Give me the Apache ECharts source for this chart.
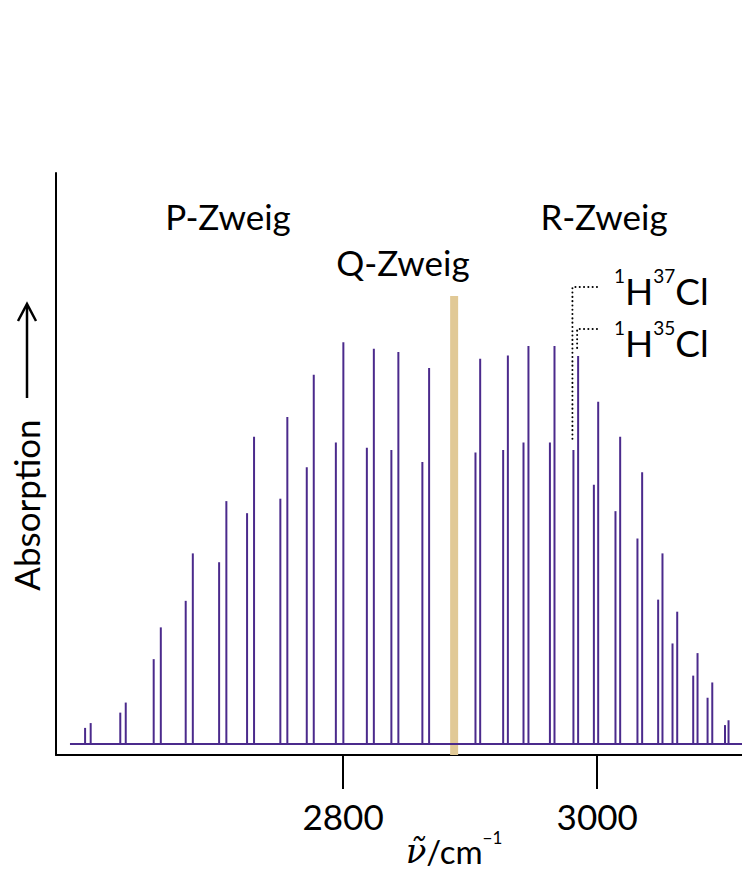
<!DOCTYPE html>
<html><head><meta charset="utf-8">
<script src="https://cdn.jsdelivr.net/npm/echarts@6/dist/echarts.min.js"></script>
<style>html,body{margin:0;padding:0;background:#fff}#c{width:742px;height:881px}</style>
</head><body><div id="c"></div>
<script>
// wavenumbers (cm^-1) and relative intensities of the H37Cl / H35Cl line pairs (P branch then R branch)
const h37Pos = [2596.9, 2624.6, 2650.9, 2676.1, 2702.4, 2724.4, 2750.6, 2771.4, 2794.3, 2818.7, 2838.0, 2862.4,
                2904.2, 2926.0, 2942.0, 2962.8, 2981.3, 2997.4, 3014.4, 3031.7, 3048.0, 3059.3, 3075.6, 3086.9, 3100.6];
const h37Int = [4.0, 7.8, 21.1, 35.6, 45.2, 57.4, 61.0, 68.8, 75.0, 73.7, 73.1, 70.1,
                72.5, 73.1, 75.0, 75.0, 73.1, 64.5, 57.9, 51.1, 35.9, 25.0, 17.0, 11.5, 4.7];
const h35Pos = [2601.3, 2628.9, 2656.5, 2681.7, 2708.1, 2729.9, 2756.1, 2776.9, 2800.2, 2824.2, 2843.5, 2867.7,
                2907.9, 2929.7, 2945.9, 2966.4, 2985.0, 3000.8, 3018.1, 3035.4, 3051.4, 3063.0, 3079.0, 3090.6, 3103.4];
const h35Int = [5.2, 10.3, 29.0, 47.4, 60.4, 76.4, 81.3, 91.8, 99.9, 98.3, 97.5, 93.5,
                95.8, 96.6, 99.0, 99.0, 96.5, 85.1, 76.4, 67.6, 47.4, 32.9, 22.6, 15.3, 5.9];
const qBranchPos = 2887.4;
const qBranchTop = 111.4;
const baselineRange = [2585, 3114];
const xTicks = [2800, 3000];
const branchLabels = ['P-Zweig', 'Q-Zweig', 'R-Zweig'];
const xRange = [2574, 3114];
const yRange = [-2.74, 142.0];

const PURPLE = '#4B2A8C';
const FONT = 'Lato';
const chart = echarts.init(document.getElementById('c'), null, {renderer: 'svg'});

chart.setOption({
  animation: false,
  grid: {left: 56, right: 0, top: 173, bottom: 126},
  xAxis: {
    type: 'value', min: xRange[0], max: xRange[1],
    axisLine: {onZero: false, lineStyle: {color: '#000', width: 2}},
    splitLine: {show: false},
    axisTick: {customValues: xTicks, length: 34, lineStyle: {color: '#000', width: 2}},
    axisLabel: {customValues: xTicks, margin: 43, fontSize: 35, color: '#000', fontFamily: FONT,
                formatter: (v) => String(v)}
  },
  yAxis: {
    type: 'value', min: yRange[0], max: yRange[1],
    axisLine: {show: true, onZero: false, lineStyle: {color: '#000', width: 2}},
    axisTick: {show: false}, axisLabel: {show: false}, splitLine: {show: false}
  },
  series: [
    {type: 'line', silent: true, showSymbol: false, z: 1,
     data: [[qBranchPos, yRange[0]], [qBranchPos, qBranchTop]],
     lineStyle: {color: '#E1C996', width: 8, cap: 'butt'}},
    {type: 'line', silent: true, showSymbol: false, z: 2,
     data: [[baselineRange[0], 0], [baselineRange[1], 0]],
     lineStyle: {color: PURPLE, width: 2}},
    {type: 'bar', name: '1H37Cl', z: 3, barWidth: 2, barGap: '-100%',
     data: h37Pos.map((x, i) => [x, h37Int[i]]), itemStyle: {color: PURPLE}},
    {type: 'bar', name: '1H35Cl', z: 3, barWidth: 2, barGap: '-100%',
     data: h35Pos.map((x, i) => [x, h35Int[i]]), itemStyle: {color: PURPLE}}
  ]
});

// annotation leaders to the isotope lines of one R-branch pair
const k = 16;
const p37 = chart.convertToPixel({gridIndex: 0}, [h37Pos[k], h37Int[k]]);
const p35 = chart.convertToPixel({gridIndex: 0}, [h35Pos[k], h35Int[k]]);
const dotStyle = {stroke: '#000', lineWidth: 2, lineDash: [0.1, 4.2], lineCap: 'round', fill: null};
const supRich = () => ({
  m: {fontSize: 37, fontFamily: FONT, lineHeight: 48, color: '#000'},
  s: {fontSize: 19, fontFamily: FONT, lineHeight: 19, verticalAlign: 'top', color: '#000'}
});
function txt(x, y, t, size, align) {
  return {type: 'text', x: x, y: y, silent: true,
    style: {text: t, fontSize: size, fontFamily: FONT, fill: '#000',
            align: align || 'center', verticalAlign: 'middle',
            textAlign: align || 'center', textVerticalAlign: 'middle'}};
}
chart.setOption({
  graphic: [
    txt(228, 216, branchLabels[0], 35),
    txt(403, 262, branchLabels[1], 35),
    txt(604, 216, branchLabels[2], 35),
    {type: 'text', x: 614, y: 290, silent: true,
     style: {text: '{s|1}{m|H}{s|37}{m|Cl}', rich: supRich(), align: 'left', verticalAlign: 'middle',
             textAlign: 'left', textVerticalAlign: 'middle'}},
    {type: 'text', x: 614, y: 342, silent: true,
     style: {text: '{s|1}{m|H}{s|35}{m|Cl}', rich: supRich(), align: 'left', verticalAlign: 'middle',
             textAlign: 'left', textVerticalAlign: 'middle'}},
    {type: 'polyline', silent: true, shape: {points: [[597, 287], [p37[0] - 1, 287], [p37[0] - 1, p37[1] - 10]]}, style: dotStyle},
    {type: 'polyline', silent: true, shape: {points: [[597, 329], [p35[0] - 1, 329], [p35[0] - 1, p35[1] - 8]]}, style: dotStyle},
    {type: 'text', x: 454, y: 851, silent: true,
     style: {text: '{i|ν̃}{m|/cm}{s|−1}', align: 'center', verticalAlign: 'middle',
             textAlign: 'center', textVerticalAlign: 'middle',
             rich: {i: {fontSize: 34, fontFamily: 'DejaVu Serif', fontStyle: 'italic', lineHeight: 44, color: '#000'},
                    m: {fontSize: 33, fontFamily: FONT, lineHeight: 44, color: '#000'},
                    s: {fontSize: 17, fontFamily: FONT, lineHeight: 17, verticalAlign: 'top', color: '#000'}}}},
    {type: 'text', x: 26, y: 505, rotation: Math.PI / 2, silent: true,
     style: {text: 'Absorption', fontSize: 35, fontFamily: FONT, fill: '#000',
             align: 'center', verticalAlign: 'middle', textAlign: 'center', textVerticalAlign: 'middle'}},
    {type: 'line', silent: true, shape: {x1: 27, y1: 398, x2: 27, y2: 305}, style: {stroke: '#000', lineWidth: 2.5}},
    {type: 'polyline', silent: true, shape: {points: [[18, 321], [27, 304], [36, 321]]},
     style: {stroke: '#000', lineWidth: 2.5, fill: null}}
  ]
});
</script>
</body></html>
